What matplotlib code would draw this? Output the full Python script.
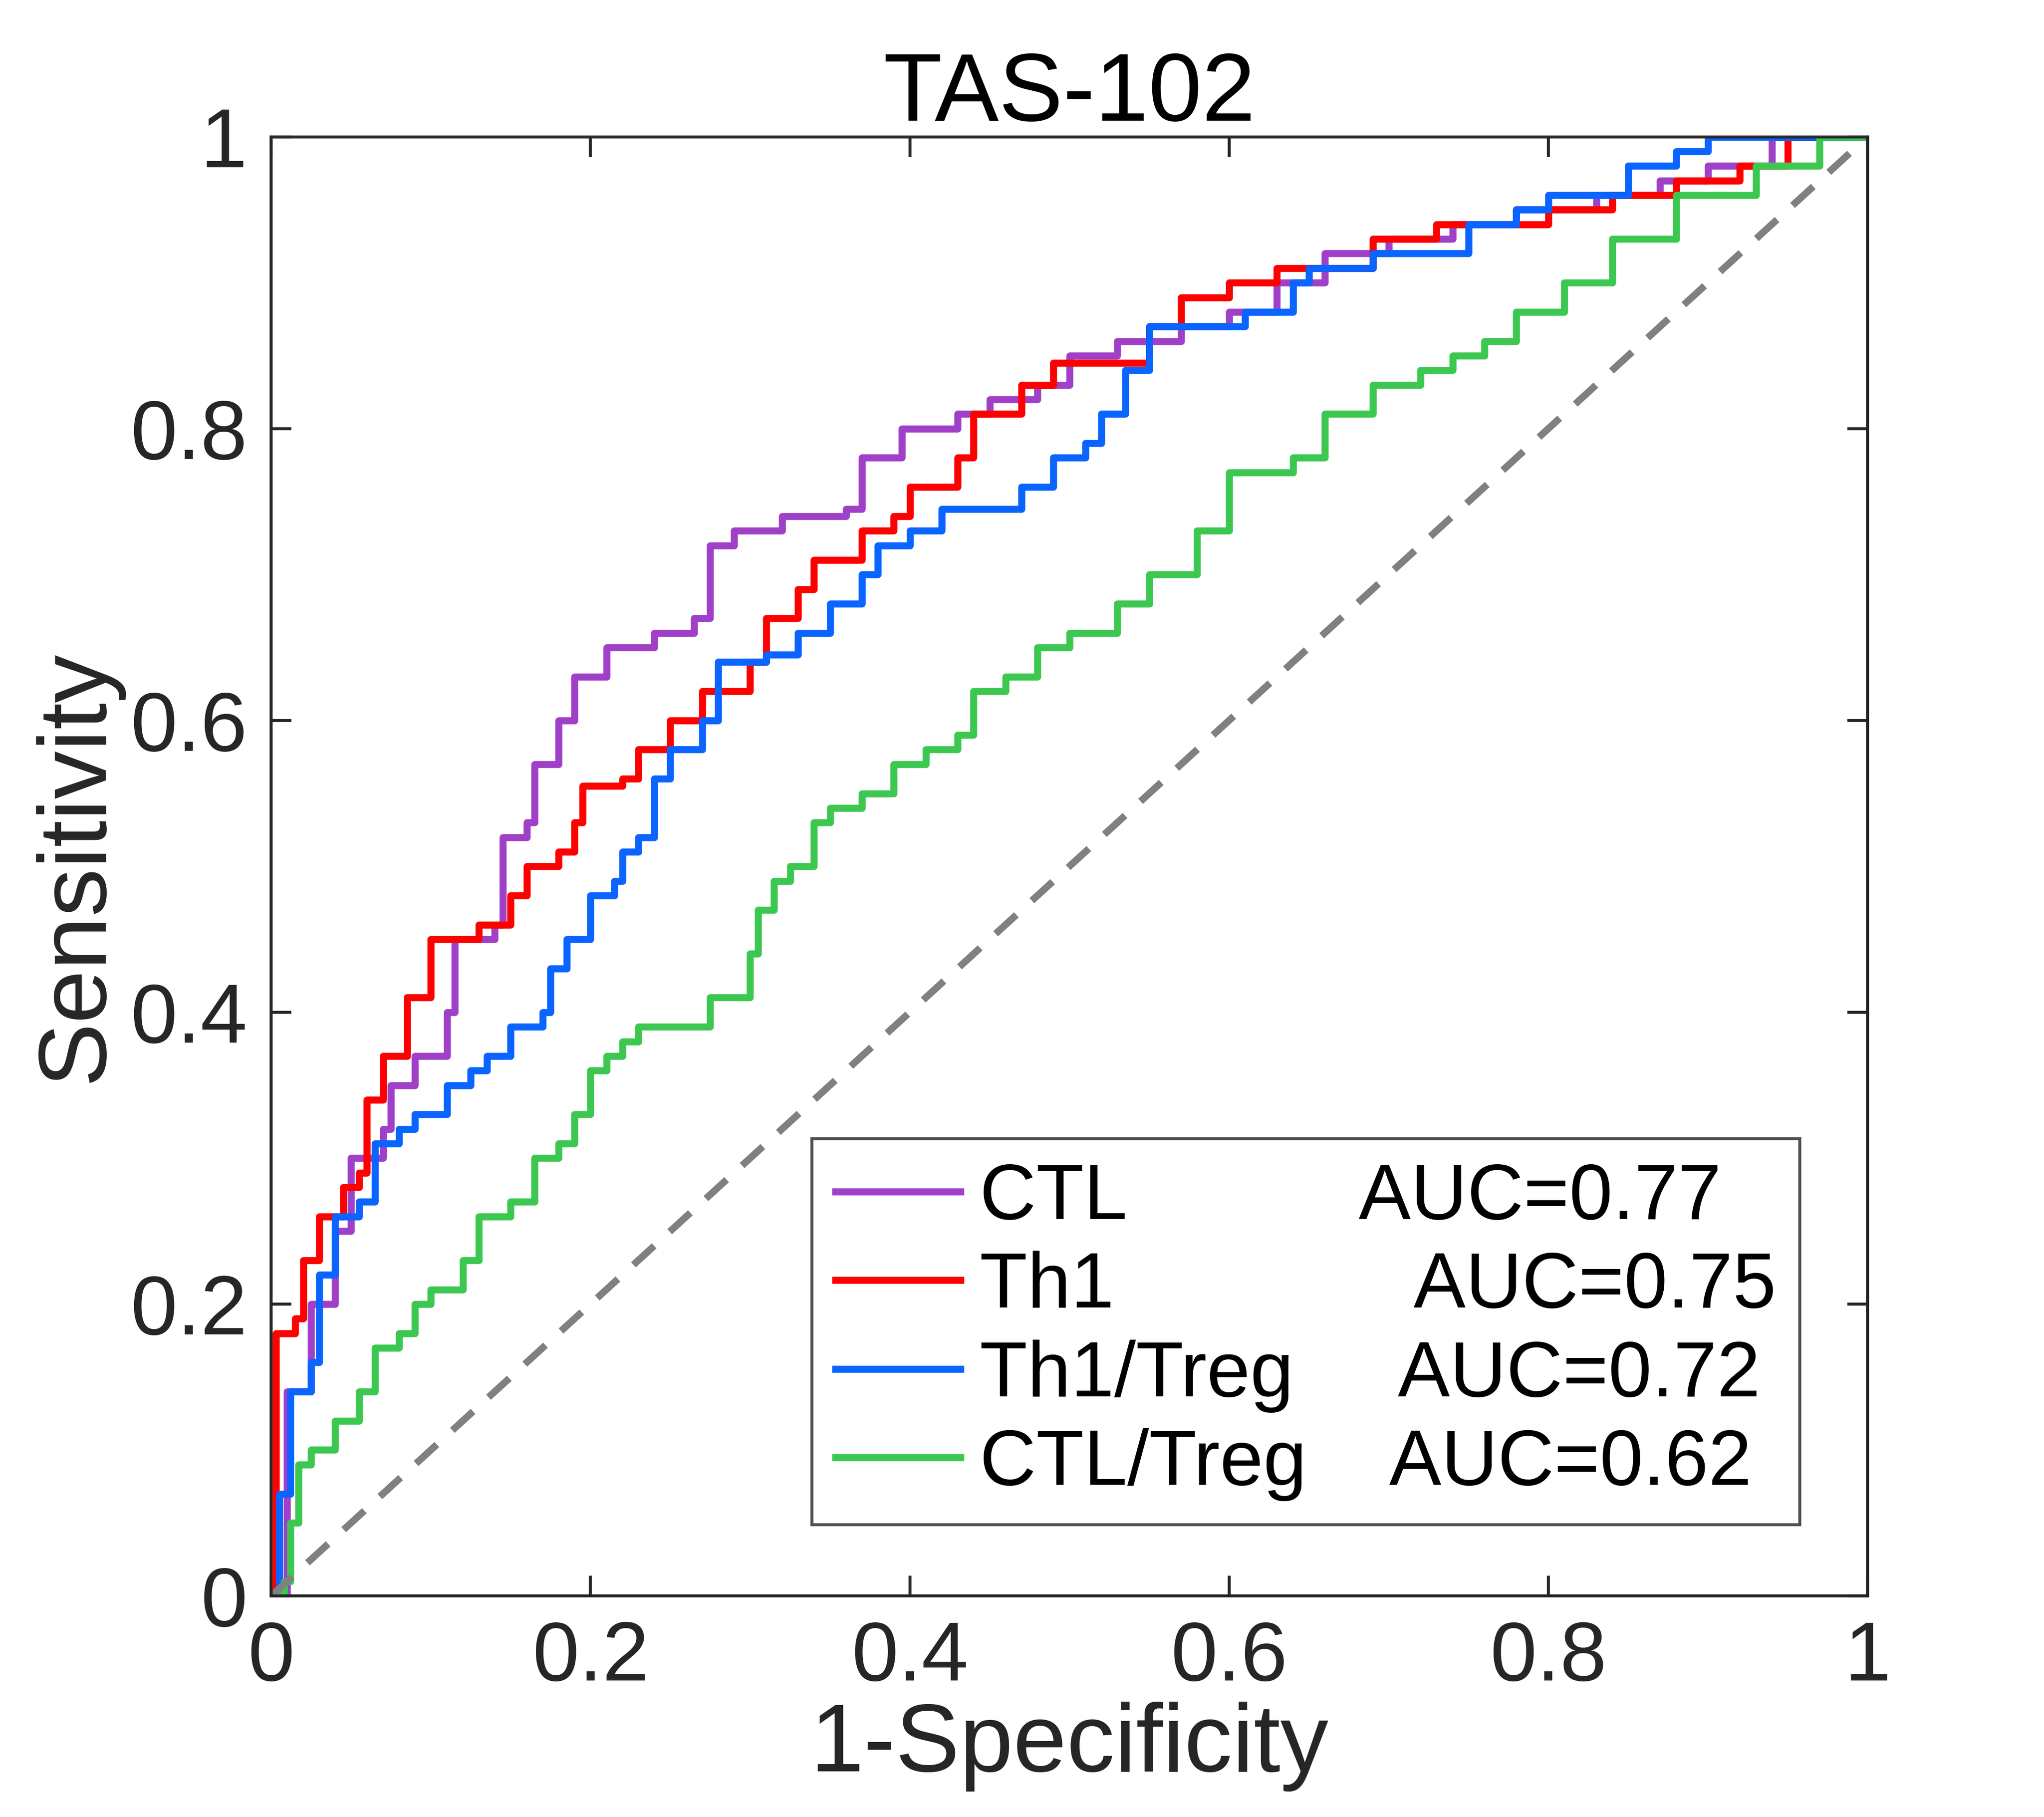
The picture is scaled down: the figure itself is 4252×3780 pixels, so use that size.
import matplotlib
matplotlib.use("Agg")
import matplotlib.pyplot as plt

plt.rcParams["font.family"] = ["Liberation Sans", "DejaVu Sans"]

# (1-specificity, sensitivity) corners of each ROC staircase
CTL_X = [0, 0.01, 0.025, 0.04, 0.05, 0.07, 0.075, 0.09, 0.11, 0.115, 0.14, 0.145, 0.16, 0.165, 0.18, 0.19,
         0.21, 0.24, 0.265, 0.275, 0.29, 0.32, 0.36, 0.37, 0.395, 0.43, 0.45, 0.48, 0.5, 0.53, 0.57, 0.6,
         0.63, 0.66, 0.7, 0.74, 0.78, 0.83, 0.87, 0.9, 0.94, 1.0]
CTL_Y = [0, 0.14, 0.2, 0.25, 0.3, 0.32, 0.35, 0.37, 0.4, 0.45, 0.46, 0.52, 0.53, 0.57, 0.6, 0.63,
         0.65, 0.66, 0.67, 0.72, 0.73, 0.74, 0.745, 0.78, 0.8, 0.81, 0.82, 0.83, 0.85, 0.86, 0.87, 0.88,
         0.9, 0.92, 0.93, 0.94, 0.95, 0.96, 0.97, 0.98, 1.0, 1.0]

TH1_X = [0, 0.003, 0.015, 0.02, 0.03, 0.045, 0.055, 0.06, 0.07, 0.085, 0.1, 0.13, 0.15, 0.16, 0.18, 0.19,
         0.195, 0.22, 0.23, 0.25, 0.27, 0.3, 0.31, 0.33, 0.34, 0.37, 0.39, 0.4, 0.43, 0.44, 0.47, 0.49,
         0.55, 0.57, 0.6, 0.63, 0.69, 0.73, 0.8, 0.84, 0.88, 0.92, 0.95, 1.0]
TH1_Y = [0, 0.18, 0.19, 0.23, 0.26, 0.28, 0.29, 0.34, 0.37, 0.41, 0.45, 0.46, 0.48, 0.5, 0.51, 0.53,
         0.555, 0.56, 0.58, 0.6, 0.62, 0.64, 0.67, 0.69, 0.71, 0.73, 0.74, 0.76, 0.78, 0.81, 0.83, 0.845,
         0.87, 0.89, 0.9, 0.91, 0.93, 0.94, 0.95, 0.96, 0.97, 0.98, 1.0, 1.0]

TH1TREG_X = [0, 0.005, 0.012, 0.025, 0.03, 0.04, 0.055, 0.065, 0.08, 0.09, 0.11, 0.125, 0.135, 0.15, 0.17,
             0.175, 0.185, 0.2, 0.215, 0.22, 0.23, 0.24, 0.25, 0.27, 0.28, 0.31, 0.33, 0.35, 0.37, 0.38,
             0.4, 0.42, 0.47, 0.49, 0.51, 0.52, 0.535, 0.55, 0.61, 0.64, 0.65, 0.69, 0.75, 0.78, 0.8,
             0.85, 0.88, 0.9, 1.0]
TH1TREG_Y = [0, 0.07, 0.14, 0.16, 0.22, 0.26, 0.27, 0.31, 0.32, 0.33, 0.35, 0.36, 0.37, 0.39, 0.4,
             0.43, 0.45, 0.48, 0.49, 0.51, 0.52, 0.56, 0.58, 0.6, 0.64, 0.645, 0.66, 0.68, 0.7, 0.72,
             0.73, 0.745, 0.76, 0.78, 0.79, 0.81, 0.84, 0.87, 0.88, 0.9, 0.91, 0.92, 0.94, 0.95, 0.96,
             0.98, 0.99, 1.0, 1.0]

CTLTREG_X = [0, 0.008, 0.012, 0.017, 0.025, 0.04, 0.055, 0.065, 0.08, 0.09, 0.1, 0.12, 0.13, 0.15, 0.165,
             0.18, 0.19, 0.2, 0.21, 0.22, 0.23, 0.275, 0.3, 0.305, 0.315, 0.325, 0.34, 0.35, 0.37, 0.39,
             0.41, 0.43, 0.44, 0.46, 0.48, 0.5, 0.53, 0.55, 0.58, 0.6, 0.64, 0.66, 0.69, 0.72, 0.74,
             0.76, 0.78, 0.81, 0.84, 0.88, 0.93, 0.97, 1.0]
CTLTREG_Y = [0, 0.01, 0.05, 0.09, 0.1, 0.12, 0.14, 0.17, 0.18, 0.2, 0.21, 0.23, 0.26, 0.27, 0.3,
             0.31, 0.33, 0.36, 0.37, 0.38, 0.39, 0.41, 0.44, 0.47, 0.49, 0.5, 0.53, 0.54, 0.55, 0.57,
             0.58, 0.59, 0.62, 0.63, 0.65, 0.66, 0.68, 0.7, 0.73, 0.77, 0.78, 0.81, 0.83, 0.84, 0.85,
             0.86, 0.88, 0.9, 0.93, 0.96, 0.98, 1.0, 1.0]

LABELS = ["CTL           AUC=0.77", "Th1              AUC=0.75",
          "Th1/Treg     AUC=0.72", "CTL/Treg    AUC=0.62"]
COLORS = ["#a040c8", "#ff0000", "#0a64ff", "#3cc850"]

fig = plt.figure(figsize=(4252 / 300, 3780 / 300), dpi=300)
ax = fig.add_axes([0.1327, 0.1217, 0.781, 0.803])

series = [(CTL_X, CTL_Y), (TH1_X, TH1_Y), (TH1TREG_X, TH1TREG_Y), (CTLTREG_X, CTLTREG_Y)]
for (x, y), lab, c in zip(series, LABELS, COLORS):
    ax.step(x, y, where="post", color=c, lw=3.5, label=lab)

ax.plot([0, 1], [0, 1], "--", color="#808080", lw=3.5, dashes=(4, 3))

ax.set_xlim(0, 1)
ax.set_ylim(0, 1)
ticks = [0, 0.2, 0.4, 0.6, 0.8, 1]
ticklabels = ["0", "0.2", "0.4", "0.6", "0.8", "1"]
ax.set_xticks(ticks, ticklabels)
ax.set_yticks(ticks, ticklabels)
ax.tick_params(direction="in", top=True, right=True, labelsize=42, length=10, width=1.5,
               colors="#262626", pad=12)
for s in ax.spines.values():
    s.set_linewidth(1.5)
    s.set_color("#262626")

ax.set_xlabel("1-Specificity", fontsize=48, color="#262626", labelpad=2)
ax.set_ylabel("Sensitivity", fontsize=48, color="#262626", labelpad=4)
ax.set_title("TAS-102", fontsize=48, color="black", pad=8)

leg = ax.legend(loc="lower right", bbox_to_anchor=(0.982, 0.022), fontsize=39, frameon=True,
                fancybox=False, edgecolor="#262626", handlelength=1.6, labelspacing=0.2,
                borderpad=0.3, handletextpad=0.25)
leg.get_frame().set_linewidth(1.5)

fig.savefig("out.png", dpi=300)
